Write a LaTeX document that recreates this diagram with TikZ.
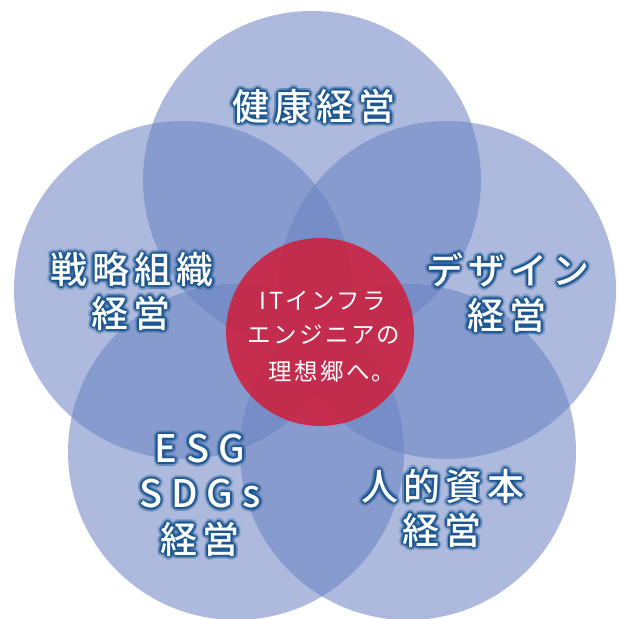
\documentclass[tikz,border=0pt]{standalone}
\usepackage{fontspec}
\setmainfont{Noto Sans CJK JP}
\newfontfamily\lblfont[LetterSpace=14]{Noto Sans CJK JP Medium}
\newfontfamily\latfont[LetterSpace=24]{Noto Sans CJK JP Medium}
\newfontfamily\ctrfont[LetterSpace=10]{Noto Sans CJK JP}
\usetikzlibrary{calc}
\definecolor{petalblue}{RGB}{105,130,195}
\definecolor{corered}{RGB}{205,35,65}
\definecolor{glowblue}{RGB}{25,85,145}
\tikzset{
  petal/.style={fill=petalblue, fill opacity=0.55, draw=none},
  core/.style={fill=corered, fill opacity=0.9, draw=none},
  bigtxt/.style={font=\lblfont\fontsize{37}{40}\selectfont, inner sep=0pt},
  lattxt/.style={font=\latfont\fontsize{38}{40}\selectfont, inner sep=0pt},
  ctrtxt/.style={font=\ctrfont\fontsize{23.5}{26}\selectfont, inner sep=0pt, text=white},
}
\newcommand\glowtxt[4]{%
  \foreach \ang in {0,30,...,330}{%
    \node[#3, text=glowblue, text opacity=0.2] at ($(#2)+(\ang:4)$) {#4};
    \node[#3, text=glowblue, text opacity=0.5] at ($(#2)+(\ang:2)$) {#4};
  }%
  \node[#3, text=white] (#1) at (#2) {#4};
}
\begin{document}
\begin{tikzpicture}[x=1pt,y=-1pt]
\useasboundingbox (0,0) rectangle (618,619);
% petals
\fill[petal] (312,180) circle (169);
\fill[petal] (183,290) circle (169);
\fill[petal] (447,290) circle (169);
\fill[petal] (236,452) circle (168);
\fill[petal] (408,452) circle (168);
% core
\fill[core] (320,332) circle (94);
% labels
\glowtxt{kenko}{314,106}{bigtxt}{健康経営}
\glowtxt{senryakuA}{132,270}{bigtxt}{戦略組織}
\glowtxt{senryakuB}{131,313}{bigtxt}{経営}
\glowtxt{designA}{508,270}{bigtxt}{デザイン}
\glowtxt{designB}{507,315}{bigtxt}{経営}
\glowtxt{esgA}{200,449}{lattxt}{ESG}
\glowtxt{esgB}{200,494}{lattxt}{SDGs}
\glowtxt{esgC}{200,539}{bigtxt}{経営}
\glowtxt{jintekiA}{443,486}{bigtxt}{人的資本}
\glowtxt{jintekiB}{442,530}{bigtxt}{経営}
% center text
\node[ctrtxt] (ctrA) at (323,301) {ITインフラ};
\node[ctrtxt] (ctrB) at (324,335) {エンジニアの};
\node[ctrtxt] (ctrC) at (332,372) {理想郷へ。};
\end{tikzpicture}
\end{document}
